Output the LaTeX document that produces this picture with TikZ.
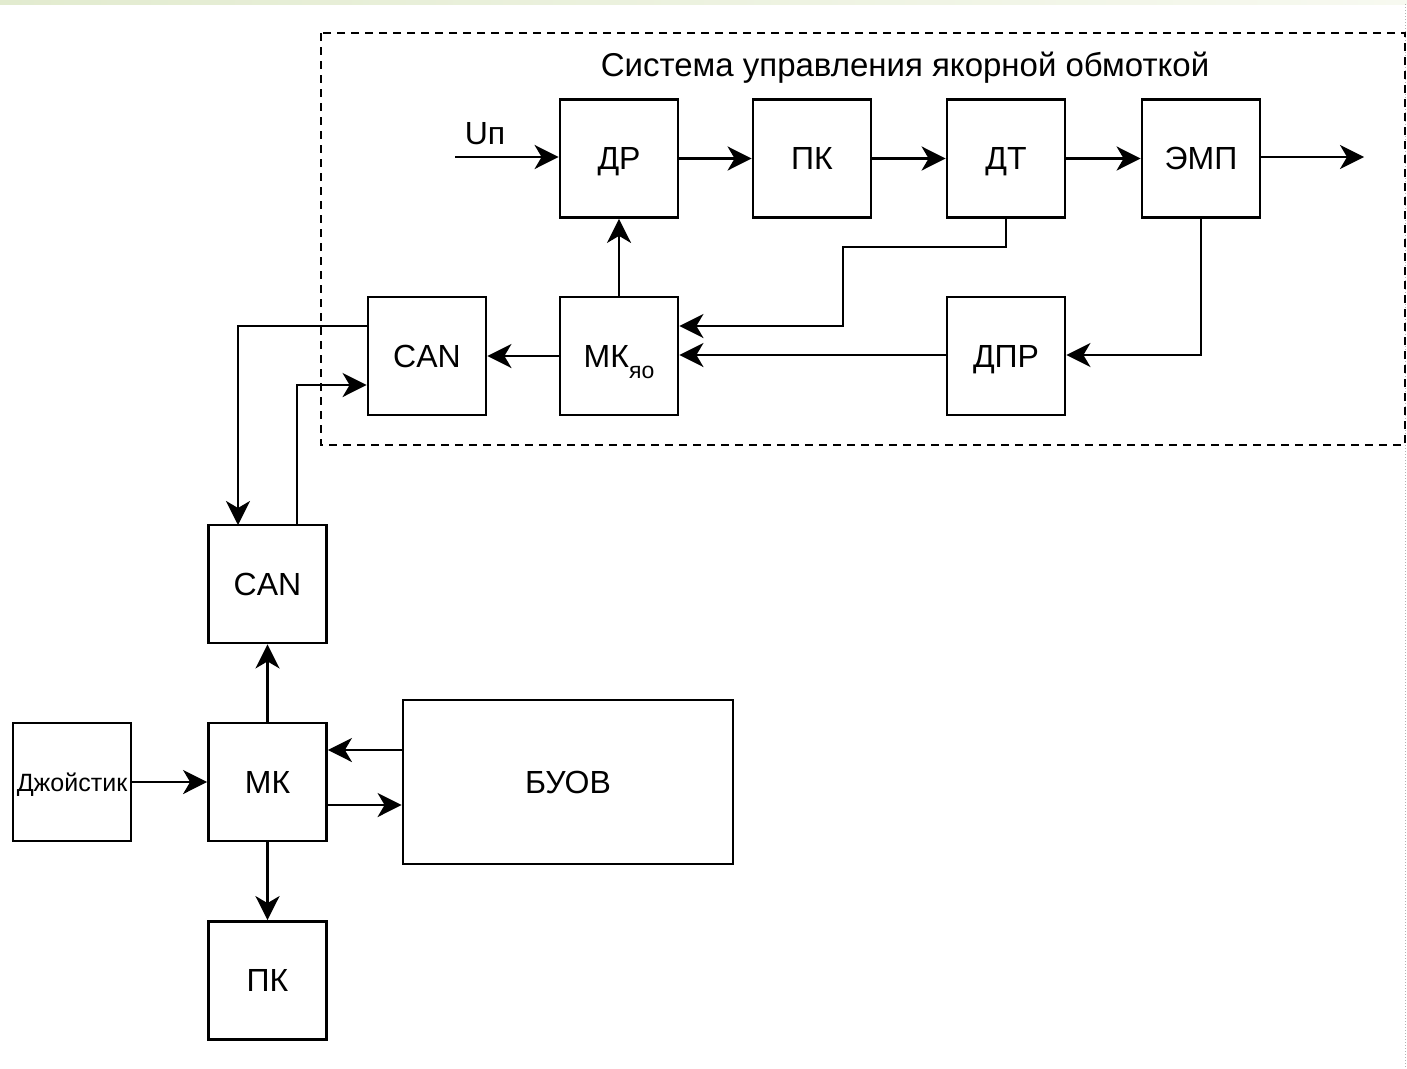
\documentclass[tikz,border=0pt]{standalone}
\usepackage{fontspec}
\setmainfont{Liberation Sans}
\usetikzlibrary{arrows.meta}
\definecolor{bandL}{HTML}{E2EBCF}
\definecolor{bandR}{HTML}{F7F9F0}
\begin{document}
\begin{tikzpicture}[x=1pt,y=-1pt,
  blk/.style={draw,line width=2.8pt,minimum width=118pt,minimum height=118pt,inner sep=0pt,text depth=0pt,font=\fontsize{32}{36}\selectfont},
  conn/.style={line width=2.8pt,-{Stealth[length=24pt,width=24pt,inset=7pt]}}]
\useasboundingbox (0,0) rectangle (1407,1068);
\shade[left color=bandL,right color=bandR] (0,0) rectangle (1407,4);
\draw[gray!60,line width=1pt,dotted] (1405.5,4) -- (1405.5,1068);
% dashed frame
\draw[line width=2.6pt,dash pattern=on 8pt off 6pt] (321,33) rectangle (1405,445);
\node[font=\fontsize{33}{38}\selectfont,text depth=0pt] (title) at (905,64) {Система управления якорной обмоткой};
% top row
\node[blk] (dr)  at (619,158.5) {ДР};
\node[blk] (pk1) at (812,158.5) {ПК};
\node[blk] (dt)  at (1006,158.5) {ДТ};
\node[blk] (emp) at (1201,158.5) {ЭМП};
% middle row
\node[blk] (can1) at (427,356) {CAN};
\node[blk] (mk1)  at (619,356) {МК\raisebox{-0.35em}{\fontsize{23}{26}\selectfont яо}};
\node[blk] (dpr)  at (1006,356) {ДПР};
% lower part
\node[blk] (can2) at (267.5,584) {CAN};
\node[blk,font=\fontsize{25}{28}\selectfont] (joy) at (72,782) {Джойстик};
\node[blk] (mk)   at (267.5,782) {МК};
\node[blk,minimum width=330pt,minimum height=164pt] (buov) at (568,782) {БУОВ};
\node[blk] (pk2)  at (267.5,980.5) {ПК};
% input / output
\coordinate (uin) at (455,157);
\coordinate (uout) at (1364,157);
\node[font=\fontsize{32}{36}\selectfont,text depth=0pt] (ulabel) at (485,133) {Uп};
\draw[conn] (uin) -- (dr.west |- uin);
\draw[conn] (emp.east |- uout) -- (uout);
\draw[conn] (dr) -- (pk1);
\draw[conn] (pk1) -- (dt);
\draw[conn] (dt) -- (emp);
\draw[conn] (dt.south) -- (1006,247) -- (843,247) -- (843,326) -- (mk1.east |- 0,326);
\draw[conn] (emp.south) -- (1201,355) -- (dpr.east |- 0,355);
\draw[conn] (dpr.west |- 0,355) -- (mk1.east |- 0,355);
\draw[conn] (mk1.north) -- (dr.south);
\draw[conn] (mk1.west) -- (can1.east);
\draw[conn] (can1.west |- 0,326) -- (238,326) -- (238,525);
\draw[conn] (297,525) -- (297,385) -- (can1.west |- 0,385);
\draw[conn] (mk.north) -- (can2.south);
\draw[conn] (joy.east) -- (mk.west);
\draw[conn] (buov.west |- 0,750) -- (mk.east |- 0,750);
\draw[conn] (mk.east |- 0,805) -- (buov.west |- 0,805);
\draw[conn] (mk.south) -- (pk2.north);
\end{tikzpicture}
\end{document}
